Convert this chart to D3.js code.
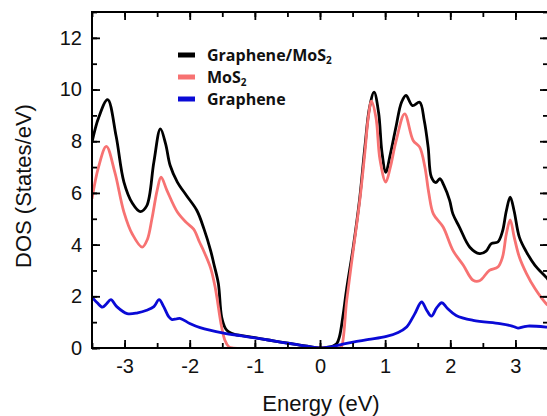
<!DOCTYPE html>
<html>
<head>
<meta charset="utf-8">
<script src="https://cdn.jsdelivr.net/npm/d3@7"></script>
<style>
  body { margin: 0; background: #fff; }
  svg { display: block; font-family: "Liberation Sans", Arial, sans-serif; }
</style>
</head>
<body>
<svg></svg>
<script>
let width = 547, height = 416;

// Graphene/MoS2 total DOS
let totalE = [-3.5, -3.4, -3.26, -3.13, -3.01, -2.88, -2.76, -2.66, -2.55, -2.45, -2.37, -2.30, -2.19, -2.05, -1.89, -1.78, -1.68, -1.63, -1.56, -1.51, -1.45, -1.40, -1.3,
  -1.2, -1.0, -0.77, -0.6, -0.4, -0.2, 0, 0.1, 0.2, 0.26, 0.3, 0.35, 0.41, 0.51, 0.61, 0.69, 0.76, 0.83, 0.9, 0.95, 1.01, 1.08, 1.17, 1.25, 1.32, 1.42, 1.53, 1.60,
  1.66, 1.71, 1.78, 1.84, 1.9, 1.99, 2.04, 2.14, 2.30, 2.45, 2.55, 2.63, 2.73, 2.80, 2.86, 2.92, 2.98, 3.06, 3.17, 3.3, 3.47, 3.5];
let totalDos = [7.96, 8.9, 9.61, 8.2, 6.42, 5.6, 5.28, 5.5, 7.2, 8.48, 7.9, 7.06, 6.42, 5.9, 5.32, 4.6, 3.78, 3.26, 2.49, 1.2, 0.75, 0.62, 0.52,
  0.48, 0.4, 0.3, 0.23, 0.15, 0.07, 0.0, 0.02, 0.08, 0.18, 0.45, 1.2, 2.3, 3.9, 5.8, 7.8, 9.3, 9.9, 9.1, 7.6, 6.8, 7.5, 8.6, 9.5, 9.77, 9.38, 9.51, 8.8,
  7.77, 6.61, 6.4, 6.55, 6.3, 5.71, 5.19, 4.68, 3.9, 3.65, 3.75, 4.04, 4.1, 4.5, 5.3, 5.84, 5.3, 4.29, 3.71, 3.2, 2.74, 2.65];

// MoS2 DOS
let mosE = [-3.5, -3.4, -3.28, -3.15, -3.01, -2.88, -2.73, -2.65, -2.58, -2.5, -2.44, -2.35, -2.19, -2.05, -1.94, -1.85, -1.79, -1.68, -1.61, -1.51, -1.46, -1.40, -1.35,
  0, 0.3, 0.33, 0.41, 0.51, 0.61, 0.69, 0.74, 0.79, 0.86, 0.92, 1.01, 1.08, 1.17, 1.30, 1.43, 1.53, 1.61, 1.67, 1.74, 1.89, 2.04, 2.2, 2.35, 2.45, 2.60, 2.73,
  2.80, 2.86, 2.92, 2.98, 3.06, 3.17, 3.3, 3.47, 3.5];
let mosDos = [5.77, 7.0, 7.8, 6.8, 5.26, 4.4, 3.9, 4.2, 5.0, 6.1, 6.61, 6.1, 5.26, 4.85, 4.6, 4.1, 3.78, 3.1, 2.36, 0.81, 0.3, 0.05, 0,
  0, 0, 0.05, 1.84, 3.78, 5.7, 7.6, 8.9, 9.55, 8.9, 7.3, 6.42, 7.0, 8.03, 9.06, 8.03, 7.77, 7.0, 6.0, 5.19, 4.68, 3.78, 3.2, 2.62, 2.6, 3.0, 3.13,
  3.5, 4.4, 4.96, 4.3, 3.52, 2.88, 2.3, 1.72, 1.65];

// Graphene DOS
let grE = [-3.5, -3.42, -3.34, -3.28, -3.21, -3.12, -2.96, -2.8, -2.66, -2.55, -2.47, -2.4, -2.32, -2.27, -2.2, -2.14, -2.0, -1.84, -1.48, -1.2, -1.0, -0.77, -0.61,
  -0.4, -0.2, 0, 0.2, 0.35, 0.51, 0.75, 1.02, 1.2, 1.33, 1.45, 1.56, 1.64, 1.71, 1.79, 1.87, 1.95, 2.09, 2.35, 2.76, 2.95, 3.04, 3.12, 3.19, 3.47, 3.5];
let grDos = [1.97, 1.75, 1.58, 1.7, 1.87, 1.6, 1.33, 1.36, 1.46, 1.6, 1.87, 1.6, 1.2, 1.1, 1.13, 1.14, 0.95, 0.79, 0.58, 0.47, 0.39, 0.3, 0.23,
  0.15, 0.07, 0, 0.06, 0.15, 0.23, 0.33, 0.45, 0.6, 0.81, 1.3, 1.78, 1.45, 1.23, 1.55, 1.75, 1.55, 1.26, 1.07, 0.94, 0.85, 0.77, 0.82, 0.85, 0.81, 0.8];

let xTicks = [-3, -2, -1, 0, 1, 2, 3];
let yTicks = [0, 2, 4, 6, 8, 10, 12];
let legendNames = [["Graphene/MoS", "2"], ["MoS", "2"], ["Graphene", ""]];
let colors = ["#000000", "#f77272", "#0a0ad6"];

let margin = {left: 92, top: 12, right: 548, bottom: 348};

let svg = d3.select("svg")
    .attr("width", width)
    .attr("height", height);

let x = d3.scaleLinear().domain([-3.5, 3.5]).range([margin.left, margin.right]);
let y = d3.scaleLinear().domain([0, 13]).range([margin.bottom, margin.top]);

svg.append("defs").append("clipPath").attr("id", "clip")
  .append("rect")
    .attr("x", margin.left).attr("y", margin.top)
    .attr("width", margin.right - margin.left).attr("height", margin.bottom - margin.top);

let line = d3.line()
    .x(d => x(d[0]))
    .y(d => y(d[1]))
    .curve(d3.curveCatmullRom.alpha(0.5));

let series = [
  d3.zip(totalE, totalDos),
  d3.zip(mosE, mosDos),
  d3.zip(grE, grDos)
];

let g = svg.append("g").attr("clip-path", "url(#clip)");
series.forEach((s, i) => {
  g.append("path")
    .datum(s)
    .attr("d", line)
    .attr("fill", "none")
    .attr("stroke", colors[i])
    .attr("stroke-width", 2.8)
    .attr("stroke-linejoin", "round");
});

// axes: ticks inside on all four sides
let xMinor = d3.range(-3.5, 3.51, 0.5);
let yMinor = d3.range(0, 13.01, 1);

svg.append("g").attr("transform", `translate(0,${margin.bottom})`)
  .call(d3.axisBottom(x).tickValues(xMinor).tickSize(-5).tickFormat(""));
svg.append("g").attr("transform", `translate(0,${margin.bottom})`)
  .call(d3.axisBottom(x).tickValues(xTicks).tickSize(-8).tickPadding(11).tickFormat(d => d));
svg.append("g").attr("transform", `translate(0,${margin.top})`)
  .call(d3.axisTop(x).tickValues(xMinor).tickSize(-5).tickFormat(""));
svg.append("g").attr("transform", `translate(0,${margin.top})`)
  .call(d3.axisTop(x).tickValues(xTicks).tickSize(-8).tickFormat(""));
svg.append("g").attr("transform", `translate(${margin.left},0)`)
  .call(d3.axisLeft(y).tickValues(yMinor).tickSize(-5).tickFormat(""));
svg.append("g").attr("transform", `translate(${margin.left},0)`)
  .call(d3.axisLeft(y).tickValues(yTicks).tickSize(-8).tickPadding(10).tickFormat(d => d));
svg.append("g").attr("transform", `translate(${margin.right},0)`)
  .call(d3.axisRight(y).tickValues(yMinor).tickSize(-5).tickFormat(""));
svg.append("g").attr("transform", `translate(${margin.right},0)`)
  .call(d3.axisRight(y).tickValues(yTicks).tickSize(-8).tickFormat(""));

svg.selectAll(".domain").remove();
svg.selectAll(".tick line").attr("stroke", "#000").attr("stroke-width", 1.8);
svg.selectAll(".tick text")
    .attr("font-size", 20)
    .attr("font-family", "Liberation Sans, Arial, sans-serif")
    .attr("fill", "#111");

// frame
svg.append("rect")
    .attr("x", margin.left).attr("y", margin.top)
    .attr("width", margin.right - margin.left).attr("height", margin.bottom - margin.top)
    .attr("fill", "none").attr("stroke", "#000").attr("stroke-width", 2);

// axis titles
svg.append("text")
    .attr("x", 321).attr("y", 411)
    .attr("text-anchor", "middle")
    .attr("font-size", 22)
    .attr("fill", "#111")
    .text("Energy (eV)");

svg.append("text")
    .attr("transform", "translate(31,186) rotate(-90)")
    .attr("text-anchor", "middle")
    .attr("font-size", 22)
    .attr("fill", "#111")
    .text("DOS (States/eV)");

// legend
let legend = svg.append("g");
legendNames.forEach((n, i) => {
  let ly = 55 + i * 22;
  legend.append("line")
      .attr("x1", 178).attr("x2", 195)
      .attr("y1", ly).attr("y2", ly)
      .attr("stroke", colors[i]).attr("stroke-width", 5);
  let t = legend.append("text")
      .attr("x", 207).attr("y", ly + 6)
      .attr("font-size", 16)
      .attr("font-weight", "bold")
      .attr("font-family", "Open Sans, sans-serif")
      .attr("fill", "#111")
      .text(n[0]);
  if (n[1]) {
    t.append("tspan").attr("dy", 3).attr("font-size", 10).text(n[1]);
  }
});
</script>
</body>
</html>
